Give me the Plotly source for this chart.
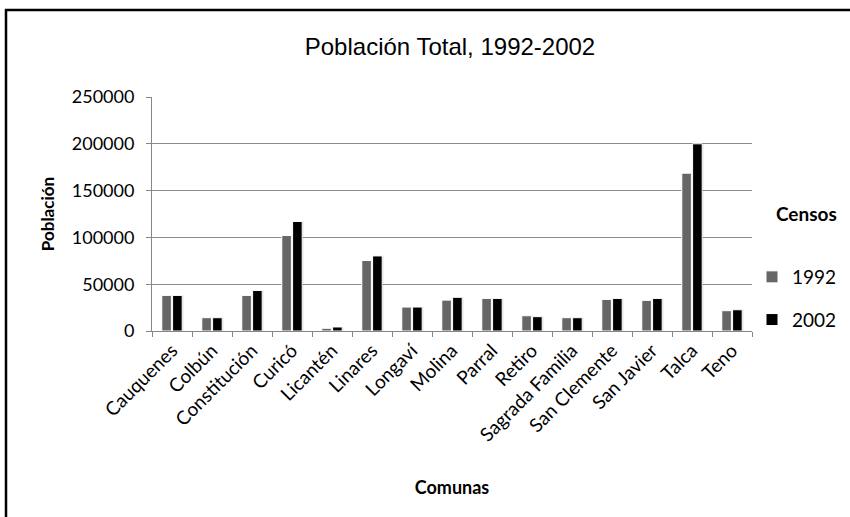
import plotly.graph_objects as go

# Census population by commune (Maule region), 1992 vs 2002
comunas = ["Cauquenes", "Colbún", "Constitución", "Curicó", "Licantén", "Linares",
           "Longaví", "Molina", "Parral", "Retiro", "Sagrada Familia", "San Clemente",
           "San Javier", "Talca", "Teno"]
pob_1992 = [38000, 14200, 38000, 102000, 2900, 75300, 25600, 33000, 34800, 16300,
            14200, 33700, 32700, 168600, 21700]
pob_2002 = [38000, 14200, 43300, 117000, 4300, 80200, 25600, 36000, 34800, 15300,
            14200, 34800, 34800, 200000, 22700]
y_ticks = [0, 50000, 100000, 150000, 200000, 250000]

series = [("1992", pob_1992, "#666666", -0.255), ("2002", pob_2002, "#000000", 0.015)]
BAR_W = 0.24

CALIBRI_LIKE = "Lato, 'Open Sans', sans-serif"
ARIAL_LIKE = "'Liberation Sans', Arial, sans-serif"

fig = go.Figure()

# soft drop shadow behind each bar
for name, vals, color, off in series:
    fig.add_trace(go.Bar(
        x=comunas, y=vals, offset=off + 0.03, width=BAR_W,
        marker=dict(color="rgba(0,0,0,0.13)", line=dict(width=0)),
        showlegend=False, hoverinfo="skip",
    ))

for name, vals, color, off in series:
    fig.add_trace(go.Bar(
        x=comunas, y=vals, name=name, offset=off, width=BAR_W,
        marker=dict(color=color, line=dict(color="white", width=1)),
        legendgroup=name,
    ))

PL, PR, PT, PB = 152, 752, 97, 331
W, H = 850, 517

def px_x(px):
    return (px - PL) / (PR - PL)

def px_y(py):
    return (PB - py) / (PB - PT)

fig.update_layout(
    width=W, height=H,
    margin=dict(l=PL, r=W - PR, t=PT, b=H - PB, pad=0, autoexpand=False),
    paper_bgcolor="white", plot_bgcolor="white",
    barmode="overlay",
    title=dict(text="Población Total, 1992-2002", x=px_x(450), xref="paper",
               xanchor="center", y=1 - 47 / H, yanchor="middle",
               font=dict(family=ARIAL_LIKE, size=24, color="#000")),
    font=dict(family=CALIBRI_LIKE, color="#000"),
    showlegend=True,
    legend=dict(x=px_x(752), xanchor="left", y=px_y(258), yanchor="top",
                font=dict(family=CALIBRI_LIKE, size=19, color="#000"),
                traceorder="grouped", tracegroupgap=15,
                bgcolor="rgba(0,0,0,0)", itemclick=False),
    xaxis=dict(
        type="category", range=[-0.5, len(comunas) - 0.5],
        showline=True, linecolor="#868686", linewidth=1,
        ticks="outside", tickson="boundaries", ticklen=5, tickcolor="#868686",
        tickangle=-45, tickfont=dict(family=CALIBRI_LIKE, size=19, color="#000"),
        showgrid=False,
        title=dict(text="<b>Comunas</b>", font=dict(family=CALIBRI_LIKE, size=18, color="#000"),
                   standoff=36),
    ),
    yaxis=dict(
        range=[0, 250000], tickvals=y_ticks, ticktext=[str(v) for v in y_ticks],
        showline=True, linecolor="#868686", linewidth=1,
        ticks="outside", ticklen=5, tickcolor="#868686",
        showgrid=True, gridcolor="#8c8c8c", gridwidth=1,
        tickfont=dict(family=CALIBRI_LIKE, size=18, color="#000"),
        ticklabelstandoff=8,
        zeroline=False,
        title=dict(text="<b>Población</b>", font=dict(family=CALIBRI_LIKE, size=17, color="#000"),
                   standoff=12),
    ),
    annotations=[dict(text="<b>Censos</b>", xref="paper", yref="paper",
                      x=px_x(774), y=px_y(213), xanchor="left", yanchor="middle",
                      showarrow=False, font=dict(family=CALIBRI_LIKE, size=19, color="#000"))],
    shapes=[
        # frame around the chart (top and left edges)
        dict(type="line", xref="paper", yref="paper", x0=px_x(5), x1=px_x(900),
             y0=px_y(10), y1=px_y(10), line=dict(color="#000", width=2.5)),
        dict(type="line", xref="paper", yref="paper", x0=px_x(6), x1=px_x(6),
             y0=px_y(9), y1=px_y(560), line=dict(color="#000", width=2.5)),
    ],
)

fig.write_html("out.html", config={"displayModeBar": False})
